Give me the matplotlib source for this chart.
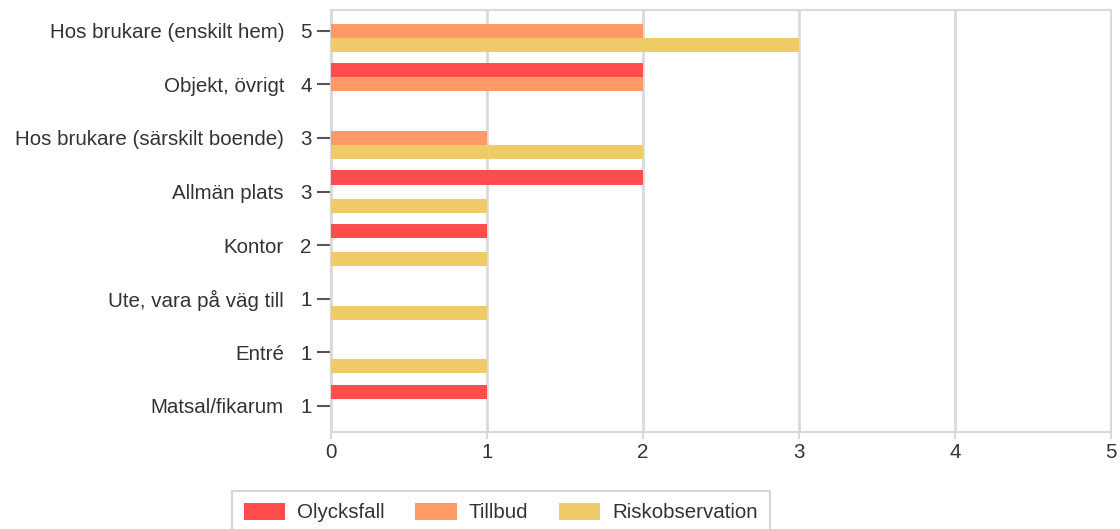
import numpy as np
import matplotlib
matplotlib.use("Agg")
from matplotlib import pyplot as plt

plt.rcParams['font.family'] = ['Liberation Sans', 'DejaVu Sans']

# data
kategorier = ['Hos brukare (enskilt hem)', 'Objekt, övrigt', 'Hos brukare (särskilt boende)',
              'Allmän plats', 'Kontor', 'Ute, vara på väg till', 'Entré', 'Matsal/fikarum']
olycksfall = [0, 2, 0, 2, 1, 0, 0, 1]
tillbud = [2, 2, 1, 0, 0, 0, 0, 0]
riskobs = [3, 0, 2, 1, 1, 1, 1, 0]
serier = ['Olycksfall', 'Tillbud', 'Riskobservation']
farger = ['#ff4d4d', '#ff9966', '#eecb66']

totals = [o + t + r for o, t, r in zip(olycksfall, tillbud, riskobs)]
fs = 14.8

fig = plt.figure(figsize=(11.2, 5.29), dpi=100)
ax = fig.add_axes([331/1120, 1-432/529, (1111-331)/1120, (432-10)/529])

y = np.arange(len(kategorier))
h = 0.262
for i, (vals, col, name) in enumerate(zip([olycksfall, tillbud, riskobs], farger, serier)):
    ax.barh(y + (i-1)*h, vals, height=h, color=col, label=name, zorder=3)

ax.set_xlim(0, 5)
ax.set_ylim(7.49, -0.39)
ax.set_xticks(range(6))
ax.grid(axis='x', color='#d9d9d9', linewidth=2, zorder=0)
for s in ax.spines.values():
    s.set_color('#d9d9d9')
    s.set_linewidth(1.5)

ax.set_yticks(y)
ax.set_yticklabels([str(t) for t in totals])
ax.tick_params(axis='y', length=10, width=1.5, color='#555555', labelsize=fs, labelcolor='#333333', pad=4)
ax.tick_params(axis='x', length=5, width=1.5, color='#d9d9d9', labelsize=fs, labelcolor='#333333', pad=3)

for yi, k in zip(y, kategorier):
    ax.annotate(k, xy=(0, yi), xycoords=('axes fraction', 'data'), xytext=(-47, 0),
                textcoords='offset pixels', ha='right', va='center_baseline', fontsize=fs, color='#333333')

leg = fig.legend(loc='upper left', bbox_to_anchor=(222/1120, 1-481/529), ncol=3, fontsize=fs,
                 frameon=True, fancybox=False, edgecolor='#cccccc', handlelength=2.0, handleheight=0.9,
                 columnspacing=1.5, borderpad=0.55, handletextpad=0.6)
leg.get_frame().set_linewidth(1.5)
for t in leg.get_texts():
    t.set_color('#333333')

fig.savefig('out.png', dpi=100)
